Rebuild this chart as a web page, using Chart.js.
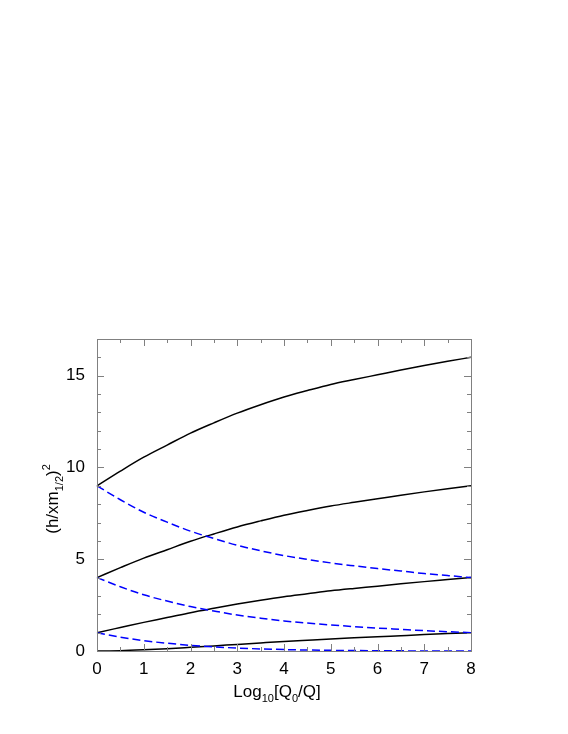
<!DOCTYPE html>
<html>
<head>
<meta charset="utf-8">
<script src="https://cdn.jsdelivr.net/npm/chart.js@4.4.0/dist/chart.umd.min.js"></script>
<style>html,body{margin:0;background:#fff}canvas{display:block}</style>
</head>
<body>
<canvas id="chart" width="568" height="734"></canvas>
<script>
const logQ = [0, 0.5, 1, 1.5, 2, 2.5, 3, 3.5, 4, 4.5, 5, 5.5, 6, 6.5, 7, 7.5, 8];

// solid curves, rising from n^2 to (n+1)^2
const rise3 = [9, 9.80, 10.56, 11.22, 11.87, 12.43, 12.96, 13.42, 13.84, 14.19, 14.52, 14.79, 15.05, 15.31, 15.56, 15.79, 16];
const rise2 = [4, 4.54, 5.06, 5.52, 5.98, 6.38, 6.76, 7.09, 7.40, 7.66, 7.90, 8.10, 8.29, 8.49, 8.67, 8.84, 9];
const rise1 = [1, 1.28, 1.56, 1.82, 2.09, 2.33, 2.56, 2.77, 2.96, 3.12, 3.28, 3.41, 3.53, 3.66, 3.78, 3.89, 4];
const rise0 = [0, 0.017, 0.063, 0.123, 0.198, 0.276, 0.36, 0.44, 0.518, 0.588, 0.656, 0.716, 0.774, 0.834, 0.893, 0.947, 1];

// dashed curves, falling from n^2 to (n-1)^2
const fall3 = [9, 8.24, 7.56, 7.02, 6.53, 6.13, 5.76, 5.46, 5.20, 4.99, 4.80, 4.64, 4.49, 4.36, 4.22, 4.11, 4];
const fall2 = [4, 3.50, 3.06, 2.72, 2.42, 2.18, 1.96, 1.79, 1.64, 1.52, 1.42, 1.33, 1.25, 1.18, 1.11, 1.05, 1];
const fall1 = [1, 0.757, 0.563, 0.423, 0.308, 0.226, 0.16, 0.114, 0.078, 0.054, 0.036, 0.024, 0.014, 0.008, 0.003, 0.001, 0];

const yTicks = [0, 5, 10, 15];
const FONT = '"Liberation Sans", Arial, sans-serif';

function curve(values, dashed) {
  return {
    data: values.map((y, i) => ({ x: logQ[i], y })),
    borderColor: dashed ? '#0000ff' : '#000000',
    borderWidth: 1.5,
    borderDash: dashed ? [8, 4] : [],
    pointRadius: 0,
    cubicInterpolationMode: 'monotone',
    fill: false,
    clip: 4,
  };
}

// pieces: [text, size, baseline shift]
function drawPieces(ctx, pieces, cx, cy) {
  let total = 0;
  for (const [t, size] of pieces) { ctx.font = size + 'px ' + FONT; total += ctx.measureText(t).width; }
  let x = cx - total / 2;
  for (const [t, size, dy] of pieces) {
    ctx.font = size + 'px ' + FONT;
    ctx.fillText(t, x, cy + dy);
    x += ctx.measureText(t).width;
  }
}

const frame = {
  id: 'frame',
  afterDraw(chart) {
    const { ctx, chartArea: a, scales: { x, y } } = chart;
    ctx.save();
    ctx.strokeStyle = '#808080';
    ctx.lineWidth = 1;
    ctx.strokeRect(a.left + 0.5, a.top + 0.5, a.right - a.left, a.bottom - a.top);
    ctx.beginPath();
    for (let v = 0; v <= 8; v += 0.5) {
      const px = Math.round(x.getPixelForValue(v)) + 0.5;
      const len = v % 1 === 0 ? 7 : 4;
      ctx.moveTo(px, a.bottom); ctx.lineTo(px, a.bottom - len);
      ctx.moveTo(px, a.top); ctx.lineTo(px, a.top + len);
    }
    for (let v = 0; v <= 17; v++) {
      const py = Math.round(y.getPixelForValue(v)) + 0.5;
      const len = v % 5 === 0 ? 7 : 4;
      ctx.moveTo(a.left, py); ctx.lineTo(a.left + len, py);
      ctx.moveTo(a.right, py); ctx.lineTo(a.right - len, py);
    }
    ctx.stroke();

    ctx.fillStyle = '#000';
    ctx.textBaseline = 'alphabetic';
    ctx.textAlign = 'left';
    drawPieces(ctx, [['Log', 17, 0], ['10', 11, 5], ['[Q', 17, 0], ['0', 11, 5], ['/Q]', 17, 0]], 277, 697);

    ctx.translate(58, 499);
    ctx.rotate(-Math.PI / 2);
    drawPieces(ctx, [['(h/xm', 17, 0], ['1/2', 11, 5], [')', 17, 0], ['2', 11, -8]], 0, 0);
    ctx.restore();
  },
};

new Chart(document.getElementById('chart'), {
  type: 'line',
  data: {
    datasets: [
      curve(fall3, true), curve(fall2, true), curve(fall1, true),
      curve(rise3, false), curve(rise2, false), curve(rise1, false), curve(rise0, false),
    ],
  },
  options: {
    responsive: false,
    animation: false,
    devicePixelRatio: 1,
    layout: { padding: { left: 0, right: 97, top: 339, bottom: 0 } },
    plugins: { legend: { display: false }, tooltip: { enabled: false } },
    scales: {
      x: {
        type: 'linear', min: 0, max: 8,
        grid: { display: false, drawTicks: false },
        border: { display: false },
        ticks: { stepSize: 1, font: { family: FONT, size: 17 }, color: '#000', padding: 8, maxRotation: 0 },
        afterFit(s) { s.height = 83; },
      },
      y: {
        type: 'linear', min: 0, max: 17,
        grid: { display: false, drawTicks: false },
        border: { display: false },
        afterBuildTicks(s) { s.ticks = yTicks.map(value => ({ value })); },
        ticks: { font: { family: FONT, size: 17 }, color: '#000', padding: 12 },
        afterFit(s) { s.width = 97; },
      },
    },
  },
  plugins: [frame],
});
</script>
</body>
</html>
